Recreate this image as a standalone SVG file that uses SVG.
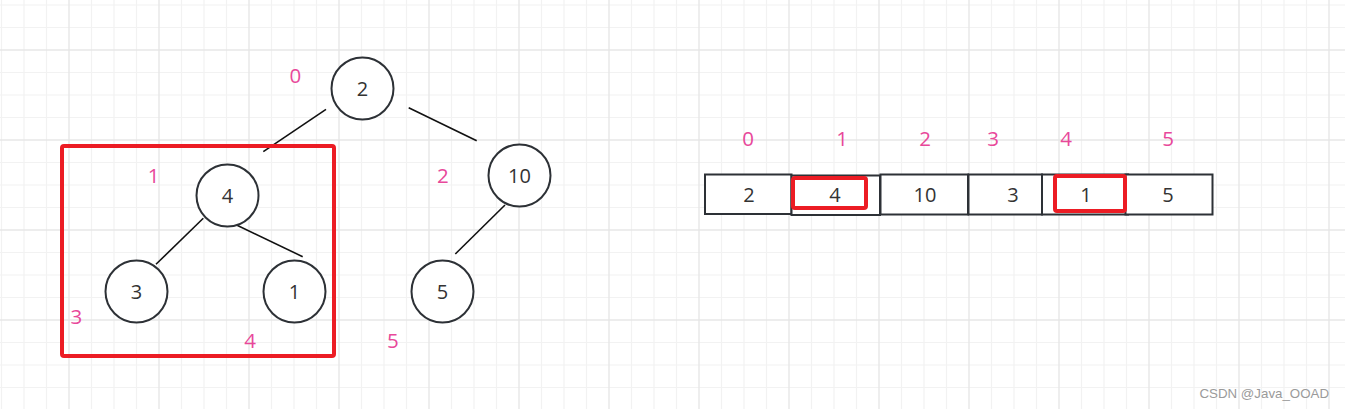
<svg xmlns="http://www.w3.org/2000/svg" width="1345" height="409" viewBox="0 0 1345 409">
<style>
.node circle{fill:#fff;stroke:#2d3136;stroke-width:2}
.t{font-family:"Open Sans","Noto Sans",sans-serif;font-size:20px;fill:#333;text-anchor:middle}
.idx{font-family:"Open Sans","Noto Sans",sans-serif;font-size:20.5px;fill:#e8489a;text-anchor:middle}
.edge{stroke:#111;stroke-width:1.6;fill:none}
.cell{fill:#fff;stroke:#2d3136;stroke-width:2}
.hl{fill:none;stroke:#ec1c24;stroke-width:4}
</style>
<defs>
<pattern id="grid" patternUnits="userSpaceOnUse" x="-22" y="-41" width="90" height="90">
<path d="M23.5 0V90M46 0V90M68.5 0V90M0 23.5H90M0 46H90M0 68.5H90" stroke="#f2f2f2" stroke-width="1.2"/>
<path d="M1 0V90M0 1H90" stroke="#e7e7e7" stroke-width="1.4"/>
</pattern>
</defs>
<rect width="1345" height="409" fill="#fff"/>
<rect width="1345" height="409" fill="url(#grid)"/>

<g id="connectors">
<line class="edge" x1="326" y1="109.3" x2="263.3" y2="151.7"/>
<line class="edge" x1="408.7" y1="107.7" x2="476.7" y2="140.7"/>
<line class="edge" x1="203.3" y1="218.3" x2="156" y2="264.3"/>
<line class="edge" x1="235" y1="224.3" x2="302.7" y2="256.7"/>
<line class="edge" x1="505" y1="205" x2="455.3" y2="254"/>
</g>

<g id="subtree-highlight"><rect class="hl" x="62" y="146" width="272" height="210" rx="2"/></g>

<g id="node-root" class="node"><circle cx="362.5" cy="88.5" r="31"/><text class="t" x="362.5" y="95.8">2</text></g>
<g id="node-4" class="node"><circle cx="227.5" cy="195.5" r="31"/><text class="t" x="227.5" y="202.8">4</text></g>
<g id="node-10" class="node"><circle cx="519.5" cy="175.5" r="31"/><text class="t" x="519.5" y="182.8">10</text></g>
<g id="node-3" class="node"><circle cx="136.5" cy="291.5" r="31"/><text class="t" x="136.5" y="298.8">3</text></g>
<g id="node-1" class="node"><circle cx="294.5" cy="291.5" r="31"/><text class="t" x="294.5" y="298.8">1</text></g>
<g id="node-5" class="node"><circle cx="442.5" cy="291.5" r="31"/><text class="t" x="442.5" y="298.8">5</text></g>

<g id="tree-indices">
<text class="idx" x="295.3" y="83.3">0</text>
<text class="idx" x="153.5" y="183.3">1</text>
<text class="idx" x="442.8" y="183.3">2</text>
<text class="idx" x="76.3" y="324">3</text>
<text class="idx" x="250.2" y="348.3">4</text>
<text class="idx" x="392.8" y="348.3">5</text>
</g>

<g id="array">
<rect class="cell" x="705" y="174.5" width="86.5" height="39.5"/>
<rect class="cell" x="791.5" y="175.5" width="88.5" height="39.5"/>
<rect class="cell" x="880.5" y="174.5" width="87.5" height="40"/>
<rect class="cell" x="968.5" y="174.5" width="73.5" height="40"/>
<rect class="cell" x="1042" y="174.5" width="86" height="40"/>
<rect class="cell" x="1125.5" y="174.5" width="87" height="40"/>
<rect class="hl" x="793" y="178" width="73" height="30" rx="2"/>
<rect class="hl" x="1055" y="176" width="70" height="35" rx="2"/>
<text class="t" x="749" y="201.5">2</text>
<text class="t" x="835" y="201.5">4</text>
<text class="t" x="925" y="201.5">10</text>
<text class="t" x="1013" y="201.5">3</text>
<text class="t" x="1086" y="201.5">1</text>
<text class="t" x="1168" y="201.5">5</text>
</g>

<g id="array-indices">
<text class="idx" x="748" y="146">0</text>
<text class="idx" x="842" y="146">1</text>
<text class="idx" x="925" y="146">2</text>
<text class="idx" x="993" y="146">3</text>
<text class="idx" x="1066" y="146">4</text>
<text class="idx" x="1168" y="146">5</text>
</g>

<text x="1329" y="397.5" font-family="Liberation Sans,Arial,sans-serif" font-size="13.3" fill="#9a9a9a" text-anchor="end">CSDN @Java_OOAD</text>
</svg>
